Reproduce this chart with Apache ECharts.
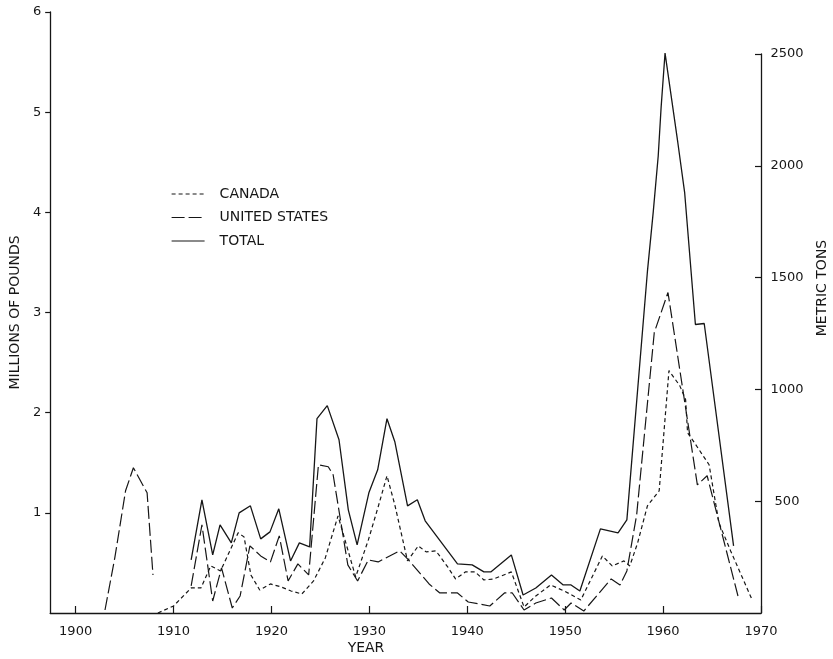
<!DOCTYPE html>
<html>
<head>
<meta charset="utf-8">
<script src="https://cdn.jsdelivr.net/npm/echarts@6/dist/echarts.min.js"></script>
<style>html,body{margin:0;padding:0;background:#fff}#c{width:833px;height:659px}</style>
</head>
<body>
<div id="c"></div>
<script>
// Millions of pounds, positions in years
const canadaYears = [1908.4,1910.0,1911.8,1912.8,1913.8,1914.8,1916.6,1917.2,1917.9,1918.8,1919.9,1921.0,1922.0,1923.1,1924.3,1925.5,1926.8,1928.6,1929.9,1930.9,1931.8,1932.6,1933.9,1935.0,1935.8,1936.8,1938.0,1938.8,1939.8,1940.8,1941.7,1942.7,1944.5,1945.8,1947.0,1948.5,1949.9,1951.6,1953.8,1954.8,1956.0,1956.6,1957.4,1958.4,1959.6,1960.6,1961.7,1962.3,1962.5,1963.2,1964.7,1965.7,1966.9,1969.1];
const canadaValues = [0,0.07,0.25,0.25,0.47,0.42,0.80,0.76,0.38,0.23,0.29,0.26,0.22,0.19,0.32,0.55,0.97,0.36,0.73,1.06,1.37,1.08,0.52,0.67,0.61,0.62,0.46,0.34,0.41,0.41,0.33,0.34,0.41,0.06,0.17,0.28,0.22,0.13,0.57,0.47,0.52,0.47,0.70,1.07,1.22,2.42,2.27,2.13,1.80,1.70,1.48,0.90,0.62,0.13];

const usYears = [1903.0,1904.0,1905.1,1905.9,1907.3,1907.9,1910.0,1911.8,1912.9,1914.0,1914.9,1916.0,1916.8,1917.8,1918.9,1919.9,1920.8,1921.7,1922.7,1923.8,1924.8,1925.8,1926.3,1927.8,1928.8,1929.9,1930.9,1933.1,1934.0,1936.1,1937.2,1939.0,1940.1,1941.3,1942.3,1943.8,1944.6,1945.8,1947.0,1948.6,1949.9,1950.6,1951.9,1954.7,1955.6,1956.3,1957.3,1959.1,1960.5,1963.5,1964.5,1967.7];
const usValues = [0.03,0.55,1.22,1.45,1.20,0.38,null,0.27,0.88,0.12,0.45,0.05,0.17,0.67,0.57,0.51,0.77,0.32,0.49,0.38,1.48,1.46,1.38,0.48,0.32,0.53,0.51,0.62,0.53,0.29,0.20,0.20,0.11,0.09,0.07,0.20,0.20,0.03,0.10,0.15,0.03,0.10,0.02,0.34,0.28,0.42,0.98,2.80,3.20,1.28,1.37,0.15];

const totalYears = [1911.8,1912.9,1914.0,1914.75,1915.9,1916.7,1917.85,1918.9,1919.85,1920.75,1921.95,1922.85,1923.9,1924.65,1925.7,1926.9,1927.85,1928.75,1929.95,1930.85,1931.8,1932.6,1933.9,1934.9,1935.7,1939.0,1940.5,1941.7,1942.4,1944.5,1945.7,1947.0,1948.6,1949.8,1950.6,1951.5,1953.6,1955.4,1956.3,1958.4,1959.0,1959.5,1959.8,1960.2,1961.5,1962.2,1963.3,1964.2,1967.2];
const totalValues = [0.53,1.13,0.58,0.88,0.70,1.00,1.07,0.74,0.81,1.04,0.52,0.70,0.66,1.94,2.07,1.73,1.03,0.68,1.20,1.43,1.94,1.71,1.07,1.13,0.92,0.49,0.48,0.41,0.41,0.58,0.18,0.25,0.38,0.28,0.28,0.22,0.84,0.80,0.93,3.41,4.01,4.56,5.05,5.59,4.70,4.20,2.88,2.89,0.67];

const yearTicks = [1900,1910,1920,1930,1940,1950,1960,1970];
const poundTicks = [1,2,3,4,5,6];
const tonTicks = [500,1000,1500,2000,2500];

const seriesNames = ['CANADA','UNITED STATES','TOTAL'];

function pairs(xs, ys) { return xs.map((x, i) => [x, ys[i] === null ? '-' : ys[i]]); }
const plain = v => String(v);

const ink = '#161616';
const font = 'DejaVu Sans';
const chart = echarts.init(document.getElementById('c'), null, {renderer: 'canvas'});
const gridL = 44, gridW = 717, gridTop = 12, gridBottom = 613;

chart.setOption({
  animation: false,
  backgroundColor: '#fff',
  grid: [
    {left: gridL, top: gridTop, width: gridW, height: gridBottom - gridTop},
    {left: gridL, top: 54, width: gridW, height: gridBottom - 54}
  ],
  legend: {
    orient: 'vertical', left: 166, top: 182,
    itemWidth: 33, itemHeight: 14, itemGap: 9.5,
    data: seriesNames,
    itemStyle: {color: 'rgba(0,0,0,0)', borderWidth: 0, opacity: 0},
    lineStyle: {color: ink, width: 1.2},
    textStyle: {fontFamily: font, fontSize: 14, color: ink, padding: [0, 0, 0, 10]}
  },
  xAxis: [
    {
      type: 'value', gridIndex: 0, min: 1897.4, max: 1970,
      axisLine: {lineStyle: {color: ink, width: 1.3}},
      axisTick: {inside: true, length: 7, customValues: yearTicks, lineStyle: {color: ink, width: 1.2}},
      axisLabel: {customValues: yearTicks, formatter: plain, margin: 12, fontFamily: font, fontSize: 13, color: ink},
      splitLine: {show: false}
    },
    {type: 'value', gridIndex: 1, min: 1897.4, max: 1970, show: false}
  ],
  yAxis: [
    {
      type: 'value', gridIndex: 0, min: 0, max: 6, position: 'left',
      name: 'MILLIONS OF POUNDS', nameLocation: 'middle', nameRotate: 90, nameGap: 19,
      nameTextStyle: {fontFamily: font, fontSize: 14, color: ink},
      axisLine: {show: true, lineStyle: {color: ink, width: 1.3}},
      axisTick: {show: true, inside: false, length: 5, customValues: poundTicks, lineStyle: {color: ink, width: 1.2}},
      axisLabel: {customValues: poundTicks, formatter: plain, margin: 9, fontFamily: font, fontSize: 13, color: ink},
      splitLine: {show: false}
    },
    {
      type: 'value', gridIndex: 1, min: 0, max: 2500, position: 'right',
      axisLine: {show: true, onZero: false, lineStyle: {color: ink, width: 1.3}},
      axisTick: {show: true, inside: true, length: 6, customValues: tonTicks, lineStyle: {color: ink, width: 1.2}},
      axisLabel: {customValues: tonTicks, formatter: plain, margin: 26, align: 'center', fontFamily: font, fontSize: 13, color: ink},
      splitLine: {show: false}
    }
  ],
  graphic: [
    {type: 'text', x: 366, y: 648, style: {text: 'YEAR', font: '14px "DejaVu Sans"', fill: ink, align: 'center', verticalAlign: 'middle'}},
    {type: 'text', x: 822, y: 288, rotation: Math.PI / 2,
     style: {text: 'METRIC TONS', font: '14px "DejaVu Sans"', fill: ink, align: 'center', verticalAlign: 'middle'}}
  ],
  series: [
    {name: seriesNames[0], type: 'line', xAxisIndex: 0, yAxisIndex: 0, data: pairs(canadaYears, canadaValues),
     showSymbol: false, symbol: 'none', connectNulls: false, itemStyle: {color: ink},
     lineStyle: {color: ink, width: 1.2, type: [4, 3]}},
    {name: seriesNames[1], type: 'line', xAxisIndex: 0, yAxisIndex: 0, data: pairs(usYears, usValues),
     showSymbol: false, symbol: 'none', connectNulls: false, itemStyle: {color: ink},
     lineStyle: {color: ink, width: 1.2, type: [13, 4]}},
    {name: seriesNames[2], type: 'line', xAxisIndex: 0, yAxisIndex: 0, data: pairs(totalYears, totalValues),
     showSymbol: false, symbol: 'none', connectNulls: false, itemStyle: {color: ink},
     lineStyle: {color: ink, width: 1.3, type: 'solid'}}
  ]
});
</script>
</body>
</html>
